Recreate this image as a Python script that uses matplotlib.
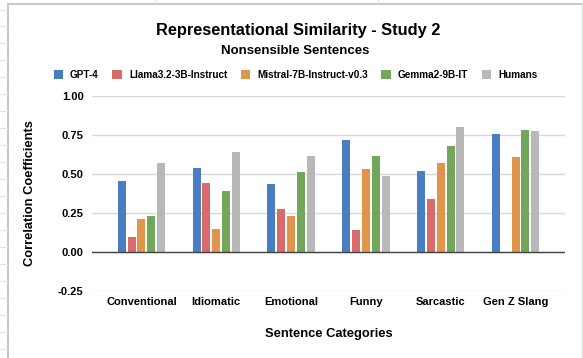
import numpy as np
import matplotlib.pyplot as plt
from matplotlib.lines import Line2D

plt.rcParams['font.family'] = ['Liberation Sans', 'DejaVu Sans']
plt.rcParams['font.weight'] = 'bold'

# categories and correlation values per model
categories = ['Conventional', 'Idiomatic', 'Emotional', 'Funny', 'Sarcastic', 'Gen Z Slang']
models = ['GPT-4', 'Llama3.2-3B-Instruct', 'Mistral-7B-Instruct-v0.3', 'Gemma2-9B-IT', 'Humans']
gpt4 = [0.457, 0.537, 0.435, 0.720, 0.520, 0.757]
llama = [0.098, 0.441, 0.275, 0.141, 0.339, 0.003]
mistral = [0.210, 0.147, 0.228, 0.531, 0.569, 0.610]
gemma = [0.230, 0.390, 0.516, 0.614, 0.678, 0.783]
humans = [0.573, 0.642, 0.614, 0.484, 0.800, 0.776]
yticks = [-0.25, 0.0, 0.25, 0.50, 0.75, 1.00]

colors = ['#4a7ec4', '#d96b6b', '#e0954b', '#72a65a', '#b8b8b8']
series = [gpt4, llama, mistral, gemma, humans]

fig = plt.figure(figsize=(5.83, 3.58), dpi=100)
ax = fig.add_axes([92/583, 1-291/358, 473/583, 195/358])

x = np.arange(len(categories))
pitch = 0.131
width = 0.107
for i, (vals, c) in enumerate(zip(series, colors)):
    ax.bar(x + (i-2)*pitch, vals, width, color=c, label=models[i], zorder=3)

ax.set_ylim(-0.25, 1.0)
ax.set_xlim(-0.66, 5.66)
ax.set_yticks(yticks)
ax.set_yticklabels(['%.2f' % v for v in yticks], fontsize=8, fontweight='bold')
ax.set_xticks(x)
ax.set_xticklabels(categories, fontsize=8, fontweight='bold')
ax.tick_params(length=0, pad=6)
ax.tick_params(axis='x', pad=4)
ax.grid(axis='y', color='#d9d9d9', linewidth=1, zorder=0)
ax.axhline(0, color='#444444', linewidth=1, zorder=4)
for s in ax.spines.values():
    s.set_visible(False)

ax.set_ylabel('Correlation Coefficients', fontsize=9.3, fontweight='bold')
ax.yaxis.set_label_coords(-0.118, 0.5)
fig.text(328.5/583, 1-334/358, 'Sentence Categories', ha='center', va='center',
         fontsize=9.3, fontweight='bold')

fig.text(298/583, 1-30/358, 'Representational Similarity - Study 2', ha='center',
         va='center', fontsize=11.8, fontweight='bold')
fig.text(295.5/583, 1-51/358, 'Nonsensible Sentences', ha='center', va='center',
         fontsize=9.5, fontweight='bold')

leg = fig.legend(loc='center', bbox_to_anchor=(295.5/583, 1-75/358), ncol=5,
                 frameon=False, fontsize=7.2, handlelength=0.95, handleheight=0.95,
                 handletextpad=0.7, columnspacing=1.35, borderaxespad=0)

# chart frame and sheet gridlines
fig.add_artist(Line2D([8/583, 8/583], [0, 1-4/358], color='#c8c8c8', linewidth=1.5))
fig.add_artist(Line2D([8/583, 582/583], [1-4/358, 1-4/358], color='#c8c8c8', linewidth=1.5))
fig.add_artist(Line2D([582/583, 582/583], [0, 1-4/358], color='#dddddd', linewidth=1))
for yy in [10, 26, 43, 60, 77, 94, 111, 128, 145, 162, 179, 196, 213, 230, 247, 264, 281, 298, 315, 332, 349]:
    fig.add_artist(Line2D([0, 7/583], [1-yy/358, 1-yy/358], color='#e4e4e4', linewidth=0.8))
for xx in [155, 378, 600]:
    fig.add_artist(Line2D([xx/583, xx/583], [1-3/358, 1], color='#e4e4e4', linewidth=0.8))

fig.savefig('out.png', dpi=100)
